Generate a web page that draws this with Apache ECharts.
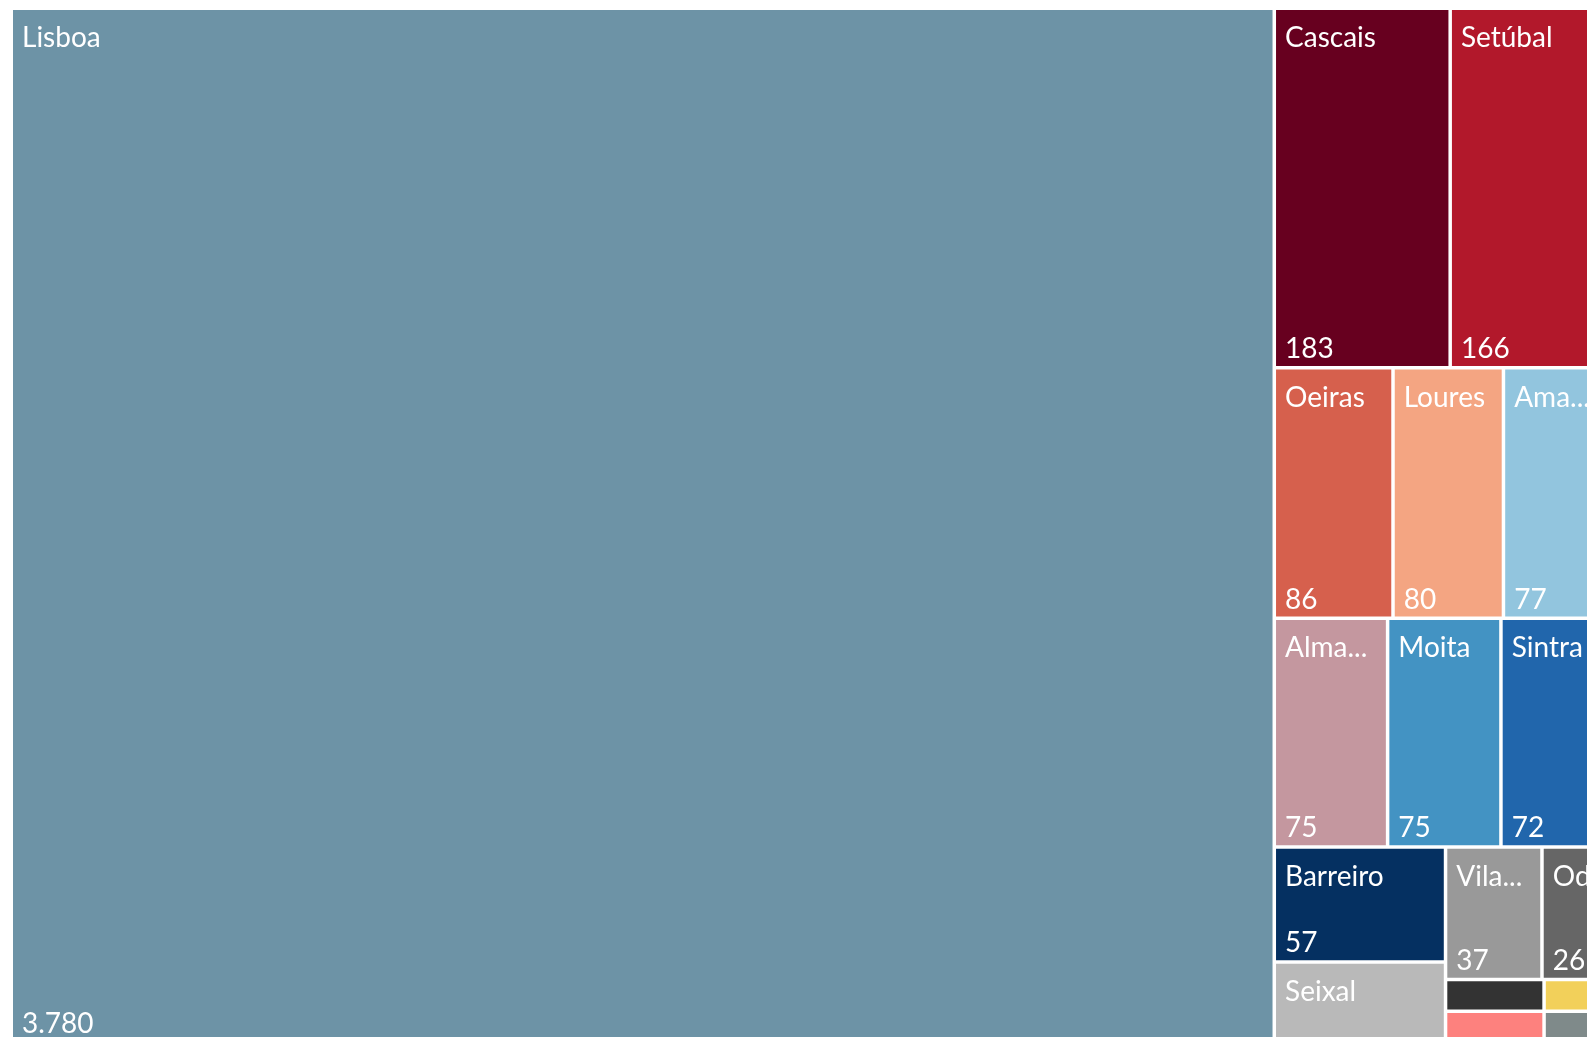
<!DOCTYPE html>
<html lang="pt">
<head>
    <meta charset="UTF-8">
    <title>Treemap</title>
    <style>
        html, body { margin: 0; padding: 0; background: #fff; overflow: hidden; }
        #main { width: 1620px; height: 1050px; }
    </style>
</head>
<body>
<div id="main"></div>
<script src="https://cdn.jsdelivr.net/npm/echarts@6/dist/echarts.min.js"></script>
<script>
    // municipios e valores (ordem do visual)
    var names = ['Lisboa', 'Cascais', 'Setúbal', 'Oeiras', 'Loures', 'Amadora', 'Almada', 'Moita', 'Sintra',
        'Barreiro', 'Seixal', 'Vila Franca de Xira', 'Odivelas', 'Montijo', 'Palmela', 'Sesimbra', 'Mafra'];
    var values = [3780, 183, 166, 86, 80, 77, 75, 75, 72, 57, 40, 37, 26, 9, 9, 6, 6];
    var colors = ['#6D93A6', '#67001F', '#B2182B', '#D6604D', '#F4A582', '#92C5DE', '#C4979F', '#4393C3', '#2166AC',
        '#053061', '#B9B9B9', '#999999', '#666666', '#333333', '#FD817E', '#F2D05A', '#7F8A8A'];

    var fontFamily = 'Lato, "Open Sans", sans-serif';

    function fmt(v) {
        return String(v).replace(/\B(?=(\d{3})+(?!\d))/g, '.');
    }

    function buildData(withColor) {
        var data = [];
        for (var i = 0; i < names.length; i++) {
            data.push({
                name: names[i],
                value: values[i],
                itemStyle: { color: withColor ? colors[i] : 'rgba(0,0,0,0)' }
            });
        }
        return data;
    }

    function baseSeries() {
        return {
            type: 'treemap',
            left: 13,
            top: 10,
            width: 1595,
            height: 1031,
            sort: false,
            roam: false,
            nodeClick: false,
            animation: false,
            breadcrumb: { show: false },
            levels: [{ itemStyle: { borderWidth: 0, gapWidth: 3.5 } }]
        };
    }

    // nomes no canto superior
    var s1 = baseSeries();
    s1.data = buildData(true);
    s1.label = {
        show: true,
        position: 'insideTopLeft',
        color: '#fff',
        fontFamily: fontFamily,
        fontSize: 28,
        lineHeight: 34,
        padding: [11, 8, 4, 9],
        formatter: '{b}'
    };

    // valores no canto inferior (serie sobreposta)
    var s2 = baseSeries();
    s2.data = buildData(false);
    s2.silent = true;
    s2.label = {
        show: true,
        position: 'insideBottomLeft',
        color: '#fff',
        fontFamily: fontFamily,
        fontSize: 28,
        lineHeight: 34,
        padding: [45, 8, 0, 9],
        formatter: function (p) { return fmt(p.value); }
    };

    var chart = echarts.init(document.getElementById('main'));
    chart.setOption({
        backgroundColor: '#fff',
        tooltip: { show: false },
        series: [s1, s2]
    });
</script>
</html>
